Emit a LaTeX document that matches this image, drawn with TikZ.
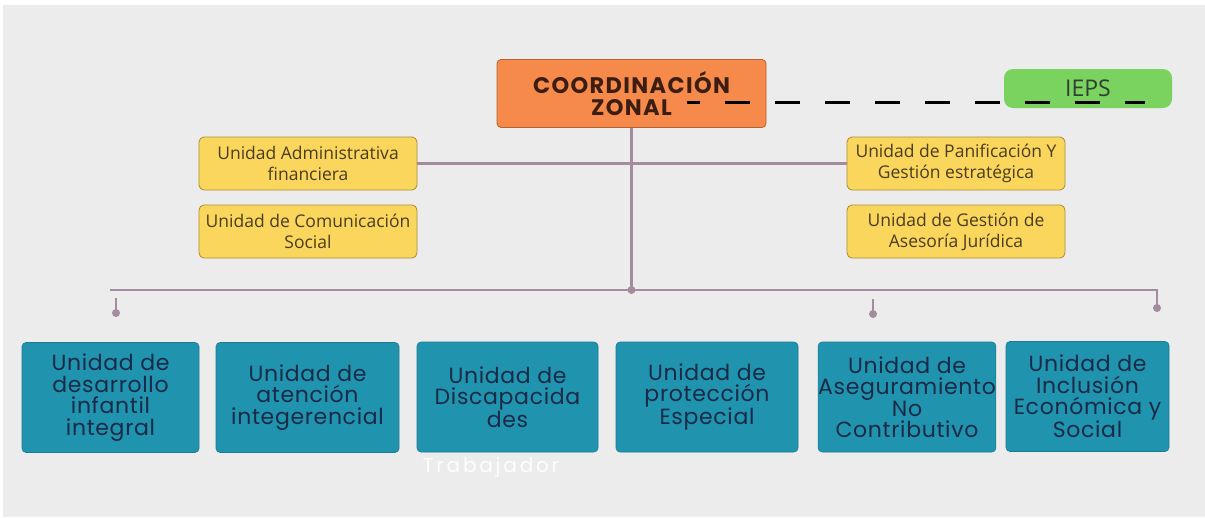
\documentclass[tikz,border=0pt]{standalone}
\usepackage{fontspec}
\newfontfamily\popfont[LetterSpace=3]{Poppins}
\newfontfamily\popboldfont[LetterSpace=6]{Poppins}
\newfontfamily\popwidefont[LetterSpace=14]{Poppins}
\newfontfamily\osfont{Open Sans}
\definecolor{bgc}{HTML}{ECECEC}
\definecolor{orangec}{HTML}{F58A4B}
\definecolor{orangeb}{HTML}{B5622E}
\definecolor{orangetxt}{HTML}{3B1D14}
\definecolor{greenc}{HTML}{79D35E}
\definecolor{greentxt}{HTML}{333D33}
\definecolor{yellowc}{HTML}{FAD75C}
\definecolor{yellowb}{HTML}{A98B3B}
\definecolor{yellowtxt}{HTML}{4A3C22}
\definecolor{tealc}{HTML}{2093AE}
\definecolor{tealb}{HTML}{1A7C94}
\definecolor{tealtxt}{HTML}{1B2A47}
\definecolor{mauve}{HTML}{A48C9E}
\tikzset{
  coordbox/.style={draw=orangeb, line width=0.8pt, fill=orangec, rounded corners=4pt,
    minimum width=269pt, minimum height=68pt, align=center, text=orangetxt,
    font=\popboldfont\bfseries\fontsize{22.5}{22}\selectfont, inner sep=0pt},
  greenbox/.style={fill=greenc, rounded corners=9pt, minimum width=168pt, minimum height=39pt,
    text=greentxt, font=\osfont\fontsize{23}{24}\selectfont, inner sep=0pt},
  yellowbox/.style={draw=yellowb, line width=0.8pt, fill=yellowc, rounded corners=5pt,
    minimum width=218pt, minimum height=53pt, align=center, text=yellowtxt,
    font=\osfont\fontsize{17.5}{21}\selectfont, inner sep=0pt},
  tealbox/.style={draw=tealb, line width=0.6pt, fill=tealc, rounded corners=4pt,
    minimum height=110pt, align=center, text=tealtxt,
    font=\popfont\fontsize{22}{21.5}\selectfont, inner sep=0pt},
  link/.style={draw=mauve, line width=2.2pt},
  dotmark/.style={circle, fill=mauve, minimum size=8pt, inner sep=0pt},
  dashlink/.style={draw=black, line width=3.2pt, dash pattern=on 25pt off 25pt, dash phase=12pt}
}
\begin{document}
\begin{tikzpicture}[x=1pt, y=-1pt]
\useasboundingbox (0,0) rectangle (1205,517);
\fill[white] (0,0) rectangle (1205,517);
\fill[bgc] (3,5) rectangle (1205,517);

% top
\node[coordbox] (coord) at (631.5,93.5) {COORDINACIÓN\\ZONAL};
\node[greenbox] (ieps) at (1088,88.5) {IEPS};

% yellow boxes
\node[yellowbox] (adm) at (308,163.5) {Unidad Administrativa\\financiera};
\node[yellowbox] (com) at (308,231.5) {Unidad de Comunicación\\Social};
\node[yellowbox] (pan) at (956,163.5) {Unidad de Panificación Y\\Gestión estratégica};
\node[yellowbox] (jur) at (956,231.5) {Unidad de Gestión de\\Asesoría Jurídica};

% teal boxes
\node[tealbox, minimum width=177pt] (u1) at (110.5,397.5) {Unidad de\\desarrollo\\infantil\\integral};
\node[tealbox, minimum width=183pt] (u2) at (307.5,397.5) {Unidad de\\atención\\integerencial};
\node[tealbox, minimum width=181pt] (u3) at (507.5,397) {Unidad de\\Discapacida\\des};
\node[tealbox, minimum width=182pt] (u4) at (707,397) {Unidad de\\protección\\Especial};
\node[tealbox, minimum width=172pt] (u5) at (907,397) {Unidad de\\Aseguramiento\\No\\Contributivo};
\node[tealbox, minimum width=163pt] (u6) at (1087.5,396.5) {Unidad de\\Inclusión\\Económica y\\Social};

\node[text=white, opacity=0.9, font=\popwidefont\fontsize{20}{20}\selectfont, anchor=base] (trab) at (491,472) {Trabajador};

% connectors
\coordinate (junc) at (631.5,290);
\coordinate (busL) at (110,290);
\coordinate (busR) at (1157,290);
\coordinate (endR) at (1157,308);
\coordinate (t1a) at (116,298);
\coordinate (t1b) at (116,313);
\coordinate (t5a) at (873,299);
\coordinate (t5b) at (873,314);

\draw[link] (coord.south) -- (junc);
\draw[link] (adm.east) -- (pan.west);
\draw[link] (busL) -- (busR) -- (endR);
\draw[link] (t1a) -- (t1b);
\draw[link] (t5a) -- (t5b);
\node[dotmark] (d0) at (junc) {};
\node[dotmark] (dR) at (endR) {};
\node[dotmark] (d1) at (t1b) {};
\node[dotmark] (d5) at (t5b) {};

% dashed link to IEPS
\coordinate (ds) at (687,102.5);
\coordinate (de) at (1145,102.5);
\draw[dashlink] (ds) -- (de);
\end{tikzpicture}
\end{document}
